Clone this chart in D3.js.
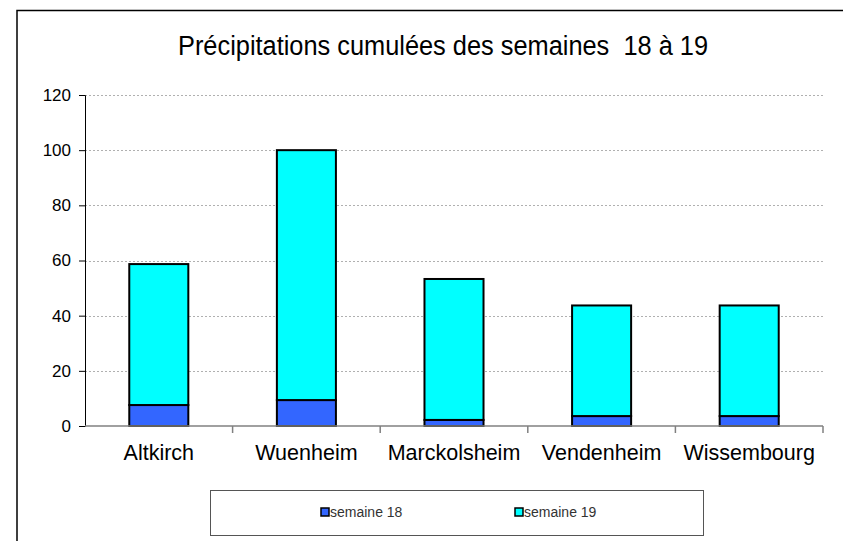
<html>
<head>
  <script src="https://d3js.org/d3.v7.min.js"></script>
  <style>
  body { margin: 0; background: #fff; }
  text { font-family: "Liberation Sans", Arial, sans-serif; fill: #000; }
  </style>
</head>
<body>
  <svg width="843" height="541"></svg>

<script>
var stations = ["Altkirch", "Wuenheim", "Marckolsheim", "Vendenheim", "Wissembourg"];
var semaine18 = [7.6, 9.4, 2.2, 3.6, 3.6];
var semaine19 = [51.1, 90.6, 51.1, 40.1, 40.1];
var seriesNames = ["semaine 18", "semaine 19"];
var seriesColors = ["#3366ff", "#00ffff"];
var yTicks = [0, 20, 40, 60, 80, 100, 120];

var svg = d3.select("svg");

// outer chart frame (runs off the right and bottom of the picture)
svg.append("rect")
  .attr("x", 17).attr("y", 10.5)
  .attr("width", 900).attr("height", 600)
  .attr("fill", "none").attr("stroke", "#000").attr("stroke-width", 1.5);

var plotLeft = 85, plotRight = 823, plotTop = 95, plotBottom = 426;

var x = d3.scaleBand().domain(stations).range([plotLeft, plotRight]).padding(0);
var y = d3.scaleLinear().domain([0, 120]).range([plotBottom, plotTop]);

// grid
svg.append("g").selectAll("line")
  .data(yTicks.slice(1))
  .enter().append("line")
  .attr("x1", plotLeft).attr("x2", plotRight)
  .attr("y1", function(d){ return Math.round(y(d)) + 0.5; })
  .attr("y2", function(d){ return Math.round(y(d)) + 0.5; })
  .attr("stroke", "#b0b0b0").attr("stroke-dasharray", "2,2");

var rows = stations.map(function(s, i){
  return {station: s, "semaine 18": semaine18[i], "semaine 19": semaine19[i]};
});
var stacked = d3.stack().keys(seriesNames)(rows);

var barW = x.bandwidth() * 0.4;
svg.append("g").selectAll("g")
  .data(stacked)
  .enter().append("g")
  .attr("fill", function(d, i){ return seriesColors[i]; })
  .selectAll("rect")
  .data(function(d){ return d; })
  .enter().append("rect")
  .attr("x", function(d){ return x(d.data.station) + (x.bandwidth() - barW) / 2; })
  .attr("y", function(d){ return y(d[1]); })
  .attr("width", barW)
  .attr("height", function(d){ return y(d[0]) - y(d[1]); })
  .attr("stroke", "#000").attr("stroke-width", 2);

// y axis
var yAxis = svg.append("g")
  .attr("transform", "translate(" + plotLeft + ",0)")
  .call(d3.axisLeft(y).tickValues(yTicks).tickSize(6).tickPadding(8));
yAxis.select(".domain").attr("stroke", "#000").attr("stroke-width", 1);
yAxis.selectAll(".tick line").attr("stroke", "#000");
yAxis.selectAll("text").style("font-size", "17px").attr("fill", "#000");

// x axis: ticks at band edges
var xAxisG = svg.append("g").attr("transform", "translate(0," + plotBottom + ")");
xAxisG.append("line").attr("x1", plotLeft).attr("x2", plotRight)
  .attr("stroke", "#808080").attr("stroke-width", 1.5);
xAxisG.selectAll("line.edge")
  .data(stations.slice(1).concat(["end"]))
  .enter().append("line").attr("class", "edge")
  .attr("x1", function(d){ return d == "end" ? plotRight : x(d); })
  .attr("x2", function(d){ return d == "end" ? plotRight : x(d); })
  .attr("y1", 0).attr("y2", 7)
  .attr("stroke", "#808080").attr("stroke-width", 1.5);
xAxisG.selectAll("text")
  .data(stations)
  .enter().append("text")
  .attr("x", function(d){ return x(d) + x.bandwidth() / 2; })
  .attr("y", 34)
  .attr("text-anchor", "middle")
  .style("font-size", "21.5px")
  .text(function(d){ return d; });

// title
svg.append("text")
  .attr("x", 443).attr("y", 55)
  .attr("text-anchor", "middle")
  .attr("textLength", 530).attr("lengthAdjust", "spacingAndGlyphs")
  .style("font-size", "27px")
  .style("white-space", "pre")
  .text("Précipitations cumulées des semaines  18 à 19");

// legend
svg.append("rect")
  .attr("x", 210.5).attr("y", 490.5).attr("width", 493).attr("height", 45)
  .attr("fill", "#fff").attr("stroke", "#555").attr("stroke-width", 1);
var legendX = [321, 515];
var lg = svg.append("g").selectAll("g")
  .data(seriesNames)
  .enter().append("g")
  .attr("transform", function(d, i){ return "translate(" + legendX[i] + ",508)"; });
lg.append("rect")
  .attr("width", 8).attr("height", 8)
  .attr("fill", function(d, i){ return seriesColors[i]; })
  .attr("stroke", "#000").attr("stroke-width", 1.5);
lg.append("text")
  .attr("x", 9).attr("y", 9)
  .style("font-size", "14px")
  .style("fill", "#333")
  .text(function(d){ return d; });
</script>
</body></html>
